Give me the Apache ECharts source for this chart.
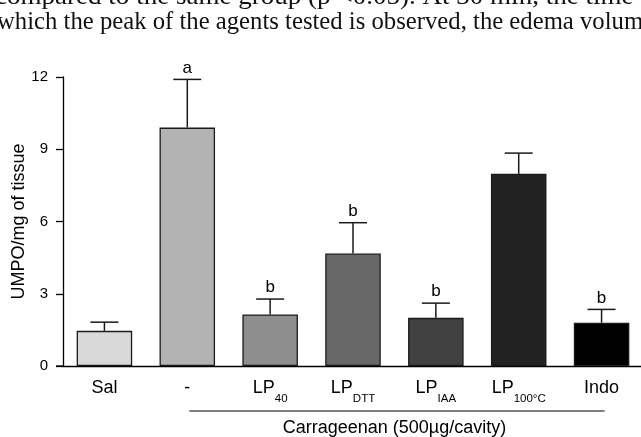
<!DOCTYPE html>
<html>
<head>
    <meta charset="utf-8">
    <title>UMPO</title>
    <script src="https://cdn.jsdelivr.net/npm/echarts@6/dist/echarts.min.js"></script>
    <style>
        html, body { margin: 0; padding: 0; background: #fff; }
    </style>
</head>
<body>
    <div id="main" style="width: 641px;height:437px;"></div>
    <script type="text/javascript">
        // data
        var categories = ['Sal', '-', 'LP40', 'LPDTT', 'LPIAA', 'LP100', 'Indo'];
        var means = [1.46, 9.9, 2.14, 4.67, 2.0, 7.98, 1.8];
        var errTops = [1.82, 11.9, 2.78, 5.95, 2.61, 8.84, 2.35];
        var letters = ['', 'a', 'b', 'b', 'b', '', 'b'];
        var barColors = ['#d9d9d9', '#b3b3b3', '#8e8e8e', '#686868', '#414141', '#222222', '#000000'];
        var yTicks = [0, 3, 6, 9, 12];

        var catLabels = {
            'Sal': 'Sal',
            '-': '-',
            'LP40': 'LP{sub|40}',
            'LPDTT': 'LP{sub|DTT}',
            'LPIAA': 'LP{sub|IAA}',
            'LP100': 'LP{sub|100°C}',
            'Indo': 'Indo'
        };

        var myChart = echarts.init(document.getElementById('main'));

        var barData = [];
        for (var i = 0; i < categories.length; i++) {
            barData.push({
                value: means[i],
                itemStyle: { color: barColors[i] }
            });
        }
        var errData = [];
        for (var j = 0; j < categories.length; j++) {
            errData.push([j, means[j], errTops[j], letters[j]]);
        }

        var option = {
            animation: false,
            grid: { left: 63, right: -2, top: 77, bottom: 71, outerBoundsMode: 'none', containLabel: false },
            xAxis: {
                type: 'category',
                data: categories,
                axisLine: { lineStyle: { color: '#000', width: 1.3 } },
                axisTick: { alignWithLabel: true, length: 7, lineStyle: { color: '#000', width: 1.3 } },
                axisLabel: {
                    margin: 6,
                    color: '#000',
                    fontFamily: 'Liberation Sans',
                    fontSize: 18,
                    lineHeight: 32,
                    interval: 0,
                    formatter: function (v) { return catLabels[v]; },
                    rich: {
                        sub: { fontSize: 11.5, lineHeight: 12, fontFamily: 'Liberation Sans', color: '#000', padding: [22, 0, 0, 0] }
                    }
                }
            },
            yAxis: {
                type: 'value',
                min: yTicks[0],
                max: yTicks[yTicks.length - 1],
                interval: 3,
                name: 'UMPO/mg of tissue',
                nameLocation: 'middle',
                nameGap: 35,
                nameMoveOverlap: false,
                nameTextStyle: { color: '#000', fontFamily: 'Liberation Sans', fontSize: 18 },
                splitLine: { show: false },
                axisLine: { show: true, lineStyle: { color: '#000', width: 1.3 } },
                axisTick: { show: true, length: 7, lineStyle: { color: '#000', width: 1.3 } },
                axisLabel: { margin: 15, color: '#000', fontFamily: 'Liberation Sans', fontSize: 15 }
            },
            series: [{
                type: 'bar',
                data: barData,
                barWidth: '67%',
                itemStyle: { borderColor: '#1a1a1a', borderWidth: 1.3 },
                z: 2
            }, {
                type: 'custom',
                data: errData,
                z: 3,
                renderItem: function (params, api) {
                    var x = api.value(0);
                    var base = api.coord([x, api.value(1)]);
                    var top = api.coord([x, api.value(2)]);
                    var half = 14;
                    var style = { stroke: '#1a1a1a', lineWidth: 1.5 };
                    var children = [
                        { type: 'line', shape: { x1: base[0], y1: base[1], x2: top[0], y2: top[1] }, style: style },
                        { type: 'line', shape: { x1: top[0] - half, y1: top[1], x2: top[0] + half, y2: top[1] }, style: style }
                    ];
                    var letter = api.value(3);
                    if (letter) {
                        children.push({
                            type: 'text',
                            style: {
                                text: letter, x: top[0], y: top[1] - 3,
                                textAlign: 'center', textVerticalAlign: 'bottom',
                                font: '17px "Liberation Sans"', fill: '#000'
                            }
                        });
                    }
                    return { type: 'group', children: children };
                }
            }]
        };

        myChart.setOption(option);

        // bracket under the carrageenan groups + text cut from the page above
        var p1 = myChart.convertToPixel({ xAxisIndex: 0 }, '-');
        var p2 = myChart.convertToPixel({ xAxisIndex: 0 }, 'Indo');
        var yBase = myChart.convertToPixel({ yAxisIndex: 0 }, 0);
        var xLeft = myChart.convertToPixel({ xAxisIndex: 0 }, 'Sal') - 41.3;
        myChart.setOption({
            graphic: [{
                type: 'line',
                shape: { x1: p1 + 2, y1: 411, x2: p2 + 3, y2: 411 },
                style: { stroke: '#000', lineWidth: 1.2 }
            }, {
                type: 'line',
                shape: { x1: xLeft - 7, y1: yBase, x2: xLeft, y2: yBase },
                style: { stroke: '#000', lineWidth: 1.3 }
            }, {
                type: 'text',
                style: {
                    text: 'Carrageenan (500µg/cavity)',
                    x: (p1 + p2) / 2, y: 428,
                    textAlign: 'center', textVerticalAlign: 'middle',
                    font: '18px "Liberation Sans"', fill: '#000'
                }
            }, {
                type: 'text',
                x: -5, y: -3,
                scaleX: 1.04,
                style: {
                    text: 'compared to the same group (p <0.05). At 30 min, the time',
                    x: 0, y: 0,
                    textAlign: 'left', textVerticalAlign: 'middle',
                    font: '26px "Liberation Serif"', fill: '#111'
                }
            }, {
                type: 'text',
                x: -3, y: 22,
                scaleX: 0.95,
                style: {
                    text: 'which the peak of the agents tested is observed, the edema volum',
                    x: 0, y: 0,
                    textAlign: 'left', textVerticalAlign: 'middle',
                    font: '26px "Liberation Serif"', fill: '#111'
                }
            }]
        });
    </script>
</body>
</html>
